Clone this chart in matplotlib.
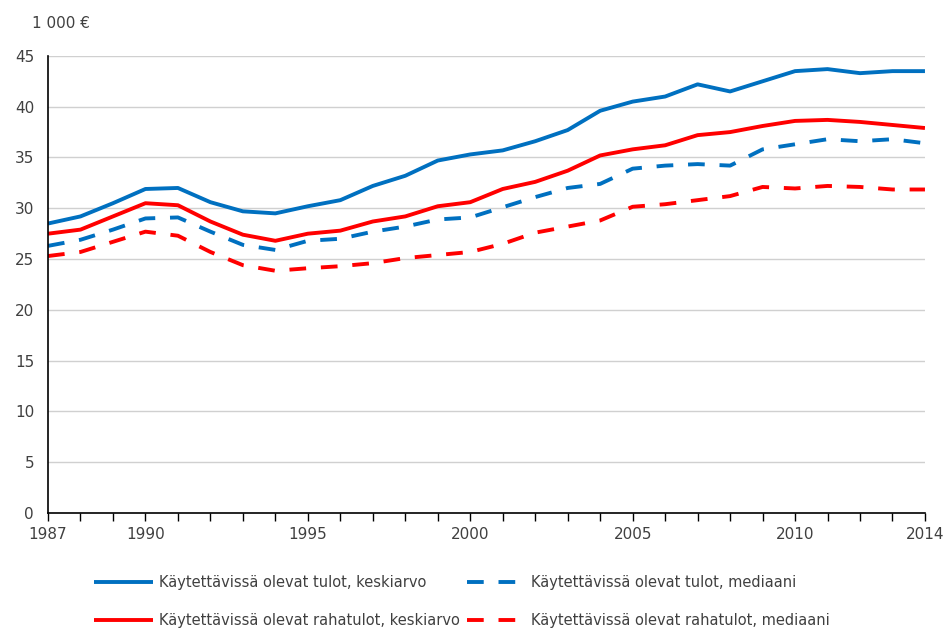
import matplotlib.pyplot as plt
from matplotlib.ticker import MultipleLocator

# --- データ ---
years = list(range(1987, 2015))

tulot_keskiarvo = [28.5, 29.2, 30.5, 31.9, 32.0, 30.6, 29.7, 29.5, 30.2, 30.8,
                   32.2, 33.2, 34.7, 35.3, 35.7, 36.6, 37.7, 39.6, 40.5, 41.0,
                   42.2, 41.5, 42.5, 43.5, 43.7, 43.3, 43.5, 43.5]
tulot_mediaani = [26.3, 26.9, 27.9, 29.0, 29.1, 27.7, 26.4, 25.9, 26.8, 27.0,
                  27.7, 28.2, 28.9, 29.1, 30.1, 31.1, 32.0, 32.4, 33.9, 34.2,
                  34.35, 34.2, 35.8, 36.3, 36.8, 36.6, 36.8, 36.4]
rahatulot_keskiarvo = [27.5, 27.9, 29.2, 30.5, 30.3, 28.7, 27.4, 26.8, 27.5, 27.8,
                       28.7, 29.2, 30.2, 30.6, 31.9, 32.6, 33.7, 35.2, 35.8, 36.2,
                       37.2, 37.5, 38.1, 38.6, 38.7, 38.5, 38.2, 37.9]
rahatulot_mediaani = [25.3, 25.7, 26.7, 27.7, 27.3, 25.7, 24.4, 23.85, 24.1, 24.3,
                      24.6, 25.1, 25.4, 25.7, 26.5, 27.6, 28.2, 28.8, 30.15, 30.4,
                      30.8, 31.2, 32.1, 31.95, 32.2, 32.1, 31.85, 31.85]

labels = ["Käytettävissä olevat tulot, keskiarvo",
          "Käytettävissä olevat tulot, mediaani",
          "Käytettävissä olevat rahatulot, keskiarvo",
          "Käytettävissä olevat rahatulot, mediaani"]
xtick_years = [1987, 1990, 1995, 2000, 2005, 2010, 2014]

BLUE = "#0070C0"
RED = "#FF0000"
TXT = "#404040"

plt.rcParams['font.family'] = ['Liberation Sans Narrow', 'DejaVu Sans']

fig = plt.figure(figsize=(9.45, 6.28), dpi=100)
ax = fig.add_axes([0.0508, 0.183, 0.928, 0.728])

lw = 2.8
dash = (4.3, 3.8)
l1, = ax.plot(years, tulot_keskiarvo, color=BLUE, lw=lw, solid_capstyle='butt')
l2, = ax.plot(years, tulot_mediaani, color=BLUE, lw=lw, dashes=dash, dash_capstyle='butt')
l3, = ax.plot(years, rahatulot_keskiarvo, color=RED, lw=lw, solid_capstyle='butt')
l4, = ax.plot(years, rahatulot_mediaani, color=RED, lw=lw, dashes=dash, dash_capstyle='butt')

ax.set_xlim(1987, 2014)
ax.set_ylim(0, 45)
ax.yaxis.set_major_locator(MultipleLocator(5))
ax.set_xticks(xtick_years)
ax.set_xticks(years, minor=True)
ax.tick_params(axis='x', which='both', direction='out', length=6, width=1,
               color='black', labelsize=11, labelcolor=TXT, pad=4)
ax.tick_params(axis='y', length=0, labelsize=11, labelcolor=TXT, pad=10)

ax.grid(axis='y', color='#d0d0d0', lw=1)
ax.set_axisbelow(True)
for s in ['top', 'right']:
    ax.spines[s].set_visible(False)
ax.spines['left'].set_color('black')
ax.spines['bottom'].set_color('black')
ax.spines['left'].set_linewidth(1.2)
ax.spines['bottom'].set_linewidth(1.2)

fig.text(0.034, 0.962, "1 000 €", fontsize=11, color=TXT, va='center', ha='left')

# 凡例は列優先で並ぶので順番を入れ替える
fig.legend([l1, l3, l2, l4], [labels[0], labels[2], labels[1], labels[3]],
           ncol=2, loc='center', bbox_to_anchor=(0.489, 0.042), frameon=False,
           fontsize=10.5, handlelength=4.0, handletextpad=0.4,
           columnspacing=0.5, labelspacing=1.55, labelcolor=TXT)

plt.savefig("out.png", dpi=100)
